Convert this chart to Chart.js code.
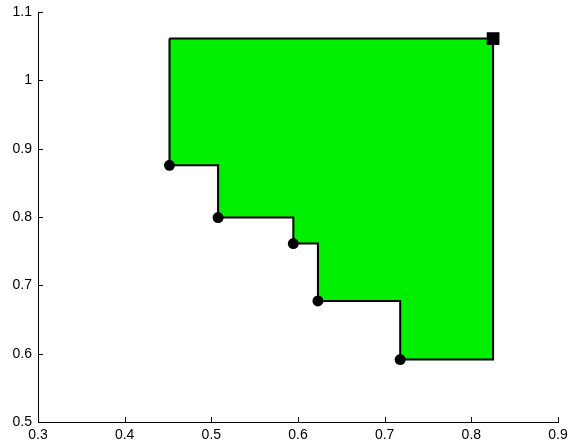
<!DOCTYPE html>
<html>
<head>
<meta charset="utf-8">
<script src="https://cdn.jsdelivr.net/npm/chart.js@4/dist/chart.umd.min.js"></script>
<style>
  html, body { margin: 0; padding: 0; background: #fff; }
  #wrap { width: 569px; height: 446px; }
</style>
</head>
<body>
<div id="wrap"><canvas id="myChart"></canvas></div>
<script>
// front points (circles)
const pointX = [0.4517, 0.5078, 0.5946, 0.6230, 0.7179]
const pointY = [0.8756, 0.7991, 0.7611, 0.6771, 0.5913]
// reference point (square)
const refX = [0.8251]
const refY = [1.0611]
// ticks
const xTicks = [0.3, 0.4, 0.5, 0.6, 0.7, 0.8, 0.9]
const yTicks = [0.5, 0.6, 0.7, 0.8, 0.9, 1, 1.1]

// staircase region between the points and the reference point
const region = []
region.push({ x: pointX[0], y: refY[0] })
region.push({ x: refX[0], y: refY[0] })
region.push({ x: refX[0], y: pointY[pointY.length - 1] })
for (let i = pointX.length - 1; i >= 0; i--) {
    region.push({ x: pointX[i], y: pointY[i] })
    if (i > 0) region.push({ x: pointX[i], y: pointY[i - 1] })
}
region.push({ x: pointX[0], y: refY[0] })

const points = pointX.map((x, i) => ({ x: x, y: pointY[i] }))
const ref = refX.map((x, i) => ({ x: x, y: refY[i] }))

// small inward ticks, like the original
const innerTicks = {
    id: 'innerTicks',
    afterDraw(chart) {
        const ctx = chart.ctx
        const xs = chart.scales.x, ys = chart.scales.y
        ctx.save()
        ctx.strokeStyle = '#000'
        ctx.lineWidth = 1
        ctx.beginPath()
        xTicks.forEach(v => {
            const p = Math.round(xs.getPixelForValue(v)) + 0.5
            ctx.moveTo(p, ys.bottom)
            ctx.lineTo(p, ys.bottom - 5)
        })
        yTicks.forEach(v => {
            const p = Math.round(ys.getPixelForValue(v)) + 0.5
            ctx.moveTo(xs.left, p)
            ctx.lineTo(xs.left + 5, p)
        })
        ctx.stroke()
        ctx.restore()
    }
}

const fmt = v => String(Number(v.toFixed(2)))
const noPad = s => { s.paddingLeft = 0; s.paddingRight = 0; s.paddingTop = 0; s.paddingBottom = 0 }

new Chart(document.getElementById('myChart'), {
    type: 'scatter',
    data: {
        datasets: [{
            data: region,
            showLine: true,
            fill: 'shape',
            backgroundColor: '#00ee00',
            borderColor: '#000',
            borderWidth: 2,
            pointRadius: 0,
            order: 2
        }, {
            data: points,
            pointStyle: 'circle',
            pointRadius: 5.5,
            backgroundColor: '#000',
            borderColor: '#000',
            borderWidth: 0,
            order: 1
        }, {
            data: ref,
            pointStyle: 'rect',
            pointRadius: 9,
            backgroundColor: '#000',
            borderColor: '#000',
            borderWidth: 0,
            order: 0
        }]
    },
    options: {
        responsive: true,
        maintainAspectRatio: false,
        animation: false,
        layout: { padding: { top: 12, right: 11, left: 0, bottom: 0 } },
        plugins: {
            legend: { display: false },
            tooltip: { enabled: false }
        },
        scales: {
            x: {
                type: 'linear',
                min: 0.3,
                max: 0.9,
                afterBuildTicks: s => { s.ticks = xTicks.map(v => ({ value: v })) },
                afterFit: s => { s.height = 24; noPad(s) },
                grid: { display: false, drawTicks: false },
                border: { display: true, color: '#000', width: 1 },
                ticks: {
                    color: '#000',
                    padding: 5,
                    maxRotation: 0,
                    font: { family: 'Liberation Sans', size: 14 },
                    callback: fmt
                }
            },
            y: {
                type: 'linear',
                min: 0.5,
                max: 1.1,
                afterBuildTicks: s => { s.ticks = yTicks.map(v => ({ value: v })) },
                afterFit: s => { s.width = 38; noPad(s) },
                grid: { display: false, drawTicks: false },
                border: { display: true, color: '#000', width: 1 },
                ticks: {
                    color: '#000',
                    padding: 6,
                    font: { family: 'Liberation Sans', size: 14 },
                    callback: fmt
                }
            }
        }
    },
    plugins: [innerTicks]
})
</script>
</body>
</html>
